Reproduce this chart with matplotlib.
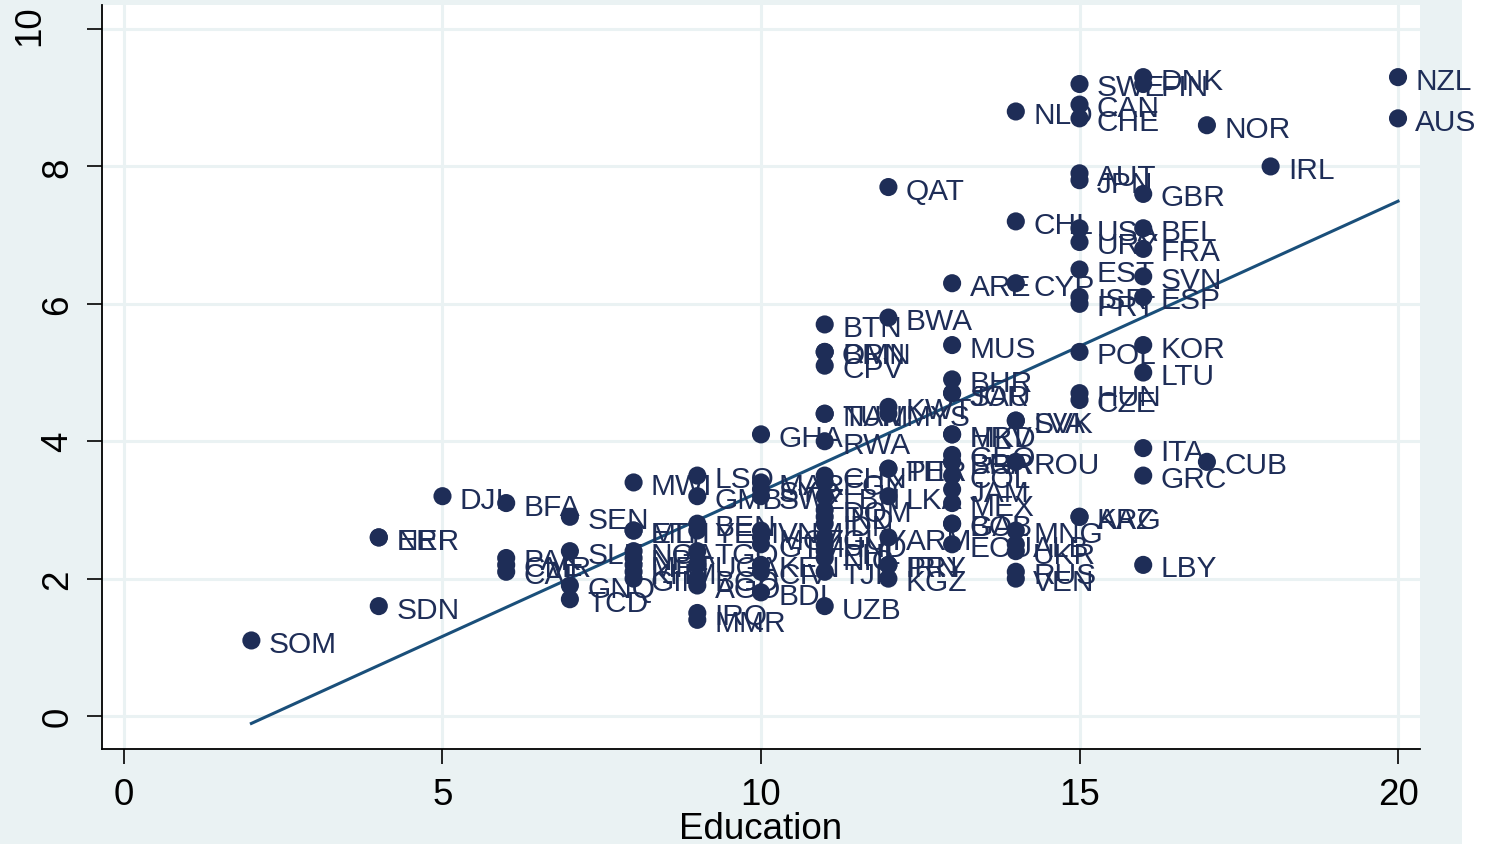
import numpy as np
import matplotlib
matplotlib.use("Agg")
import matplotlib.pyplot as plt
from matplotlib.patches import Rectangle

plt.rcParams['font.family'] = ['Liberation Sans', 'DejaVu Sans']

# ---- data ----
countries = ["SOM", "SDN", "NER", "ERI", "DJI",
             "BFA", "PAK", "CMR", "CAF",
             "SEN", "SLE", "GNQ", "TCD",
             "MWI", "ETH", "MLI", "NGA", "NPL", "MRT", "KHM", "GIN",
             "LSO", "GMB", "BEN", "YEM", "TGO", "UGA", "BGD", "AGO", "IRQ", "MMR",
             "GHA", "MAR", "SYR", "SWZ", "VNM", "MOZ", "GTM", "KEN", "CIV", "BDI",
             "BTN", "OMN", "BRN", "CPV", "TUN", "NAM", "RWA", "CHN", "EGY", "LBN",
             "DOM", "IND", "IDN", "GUY", "HND", "PHL", "NIC", "TJK", "UZB",
             "QAT", "BWA", "KWT", "MYS", "THA", "PER", "LKA", "ARM", "PRY", "IRN", "KGZ",
             "ARE", "MUS", "BHR", "JOR", "SAU", "HRV", "MKD", "GEO", "BGR", "BRA",
             "COL", "JAM", "MEX", "BOL", "GAB", "ECU",
             "NLD", "CHL", "CYP", "SVK", "LVA", "ROU", "MNG", "ALB", "UKR", "RUS", "VEN",
             "SWE", "CAN", "CHE", "AUT", "JPN", "USA", "URY", "EST", "ISR", "PRT",
             "POL", "HUN", "CZE", "KAZ", "ARG",
             "DNK", "FIN", "GBR", "BEL", "FRA", "SVN", "ESP", "KOR", "LTU", "ITA", "GRC", "LBY",
             "NOR", "CUB", "IRL", "NZL", "AUS"]

education = [2, 4, 4, 4, 5,
             6, 6, 6, 6,
             7, 7, 7, 7,
             8, 8, 8, 8, 8, 8, 8, 8,
             9, 9, 9, 9, 9, 9, 9, 9, 9, 9,
             10, 10, 10, 10, 10, 10, 10, 10, 10, 10,
             11, 11, 11, 11, 11, 11, 11, 11, 11, 11,
             11, 11, 11, 11, 11, 11, 11, 11, 11,
             12, 12, 12, 12, 12, 12, 12, 12, 12, 12, 12,
             13, 13, 13, 13, 13, 13, 13, 13, 13, 13,
             13, 13, 13, 13, 13, 13,
             14, 14, 14, 14, 14, 14, 14, 14, 14, 14, 14,
             15, 15, 15, 15, 15, 15, 15, 15, 15, 15,
             15, 15, 15, 15, 15,
             16, 16, 16, 16, 16, 16, 16, 16, 16, 16, 16, 16,
             17, 17, 18, 20, 20]

cpi = [1.1, 1.6, 2.6, 2.6, 3.2,
       3.1, 2.3, 2.2, 2.1,
       2.9, 2.4, 1.9, 1.7,
       3.4, 2.7, 2.7, 2.4, 2.3, 2.2, 2.1, 2.0,
       3.5, 3.2, 2.8, 2.7, 2.4, 2.2, 2.0, 1.9, 1.5, 1.4,
       4.1, 3.4, 3.3, 3.2, 2.7, 2.6, 2.5, 2.2, 2.1, 1.8,
       5.7, 5.3, 5.3, 5.1, 4.4, 4.4, 4.0, 3.5, 3.4, 3.2,
       3.0, 2.9, 2.8, 2.6, 2.5, 2.4, 2.3, 2.1, 1.6,
       7.7, 5.8, 4.5, 4.4, 3.6, 3.6, 3.2, 2.6, 2.2, 2.2, 2.0,
       6.3, 5.4, 4.9, 4.7, 4.7, 4.1, 4.1, 3.8, 3.7, 3.7,
       3.5, 3.3, 3.1, 2.8, 2.8, 2.5,
       8.8, 7.2, 6.3, 4.3, 4.3, 3.7, 2.7, 2.5, 2.4, 2.1, 2.0,
       9.2, 8.9, 8.7, 7.9, 7.8, 7.1, 6.9, 6.5, 6.1, 6.0,
       5.3, 4.7, 4.6, 2.9, 2.9,
       9.3, 9.2, 7.6, 7.1, 6.8, 6.4, 6.1, 5.4, 5.0, 3.9, 3.5, 2.2,
       8.6, 3.7, 8.0, 9.3, 8.7]

x_ticks = [0, 5, 10, 15, 20]
y_ticks = [0, 2, 4, 6, 8, 10]
x_label = "Education"

# ---- styling ----
BG = "#EAF2F3"
DOT = "#1E2D57"
LINE = "#1A4F7A"

W, H = 1489, 845
fig = plt.figure(figsize=(W / 100, H / 100), dpi=100, facecolor=BG)
fig.patches.append(Rectangle((1462 / W, 0), 1 - 1462 / W, 1, transform=fig.transFigure,
                             facecolor="white", edgecolor="none", zorder=-1))
ax = fig.add_axes([102 / W, (H - 750) / H, (1420 - 102) / W, (750 - 6) / H])
ax.set_facecolor("white")

ax.set_xlim(-0.345, 20.345)
ax.set_ylim(-0.48, 10.35)

ax.grid(True, color=BG, linewidth=2.2, zorder=0)
ax.set_axisbelow(True)

ex = np.asarray(education, dtype=float)
cy = np.asarray(cpi, dtype=float)

ax.scatter(ex, cy, s=170, color=DOT, edgecolors="none", zorder=3)
for c, x, y in zip(countries, ex, cy):
    ax.annotate(c, (x, y), xytext=(12.5, -2.5), textcoords="offset points",
                va="center", ha="left", fontsize=21.5, color=DOT, zorder=4)

slope, intercept = np.polyfit(ex, cy, 1)
xs = np.array([ex.min(), ex.max()])
ax.plot(xs, intercept + slope * xs, color=LINE, linewidth=2.2, zorder=2)

for s in ["top", "right"]:
    ax.spines[s].set_visible(False)
for s in ["left", "bottom"]:
    ax.spines[s].set_linewidth(1.3)
    ax.spines[s].set_color("black")

ax.set_xticks(x_ticks)
ax.set_yticks(y_ticks)
ylabels = [str(v) for v in y_ticks]
ylabels[-1] = ""  # top label drawn separately (sits further left in the reference)
ax.set_yticklabels(ylabels)
ax.tick_params(axis="both", length=11, width=1.2, colors="black", labelsize=26.5)
ax.tick_params(axis="x", pad=9)
ax.tick_params(axis="y", labelrotation=90, pad=8)
for lab in ax.get_yticklabels():
    lab.set_va("center")
ax.text(-0.0546, y_ticks[-1] + 0.06, str(y_ticks[-1]), transform=ax.get_yaxis_transform(),
        rotation=90, ha="center", va="center", fontsize=26.5, color="black")
ax.set_xlabel(x_label, fontsize=26.5, labelpad=-0.5)

fig.savefig("out.png", dpi=100, facecolor=BG)
